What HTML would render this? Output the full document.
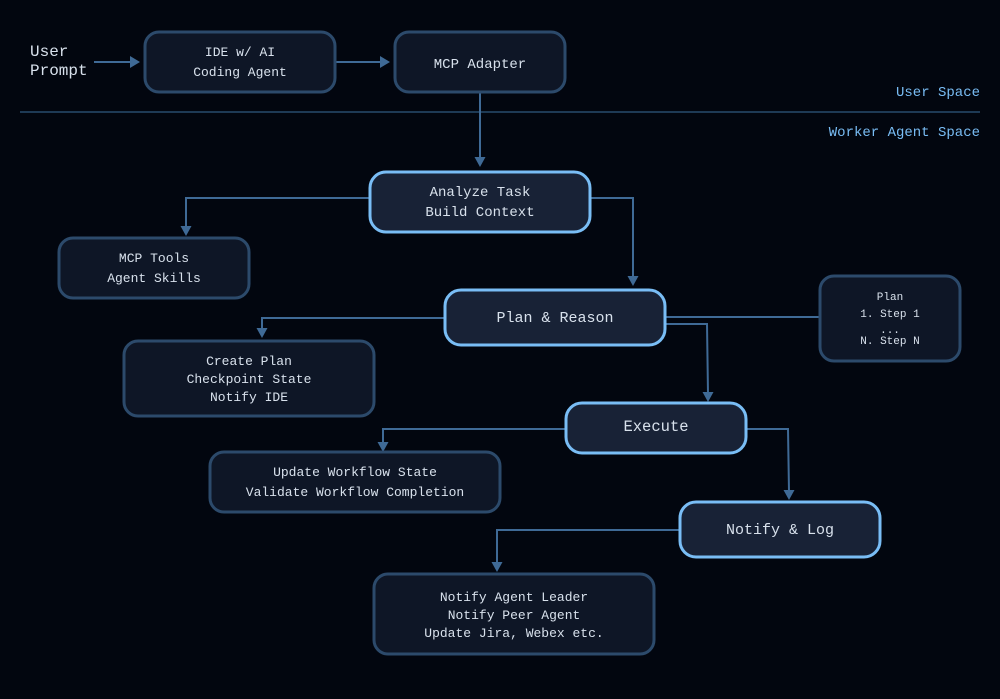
<!DOCTYPE html>
<html><head><meta charset="utf-8"><style>
html,body{margin:0;padding:0;background:#02060f}
svg{display:block}
text{font-family:"Liberation Mono","DejaVu Sans Mono",monospace;text-anchor:middle;fill:#d8e1ec}
.a{fill:#0e1626;stroke:#2c4a6b;stroke-width:3}
.b{fill:#182236;stroke:#79bdf5;stroke-width:3}
.l{fill:none;stroke:#3f6a96;stroke-width:2}
.h{fill:#3f6a96;stroke:none}
</style></head><body>
<svg width="1000" height="699" viewBox="0 0 1000 699" xmlns="http://www.w3.org/2000/svg">
<rect width="1000" height="699" fill="#02060f"/>
<line x1="20" y1="112" x2="980" y2="112" stroke="#1e3a55" stroke-width="2"/>
<path class="l" d="M94 62H132"/><path class="h" d="M130 56L140 62L130 68Z"/>
<path class="l" d="M336 62H382"/><path class="h" d="M380 56L390 62L380 68Z"/>
<path class="l" d="M480 93V158"/><path class="h" d="M474.500 157L480 167L485.500 157Z"/>
<path class="l" d="M369 198H186V228"/><path class="h" d="M180.500 226L186 236L191.500 226Z"/>
<path class="l" d="M591 198H633V278"/><path class="h" d="M627.500 276L633 286L638.500 276Z"/>
<path class="l" d="M444 318H262V330"/><path class="h" d="M256.500 328L262 338L267.500 328Z"/>
<path class="l" d="M666 317H820"/>
<path class="l" d="M666 324H707L708 394"/><path class="h" d="M702.500 392L708 402L713.500 392Z"/>
<path class="l" d="M565 429H383V444"/><path class="h" d="M377.500 442L383 452L388.500 442Z"/>
<path class="l" d="M747 429H788L789 492"/><path class="h" d="M783.500 490L789 500L794.500 490Z"/>
<path class="l" d="M679 530H497V564"/><path class="h" d="M491.500 562L497 572L502.500 562Z"/>

<rect class="a" x="145" y="32" width="190" height="60" rx="14"/>
<rect class="a" x="395" y="32" width="170" height="60" rx="14"/>
<rect class="b" x="370" y="172" width="220" height="60" rx="16"/>
<rect class="a" x="59" y="238" width="190" height="60" rx="14"/>
<rect class="b" x="445" y="290" width="220" height="55" rx="16"/>
<rect class="a" x="820" y="276" width="140" height="85" rx="14"/>
<rect class="a" x="124" y="341" width="250" height="75" rx="14"/>
<rect class="b" x="566" y="403" width="180" height="50" rx="16"/>
<rect class="a" x="210" y="452" width="290" height="60" rx="14"/>
<rect class="b" x="680" y="502" width="200" height="55" rx="16"/>
<rect class="a" x="374" y="574" width="280" height="80" rx="14"/>

<text x="30" y="56" font-size="16" style="text-anchor:start">User</text>
<text x="30" y="75" font-size="16" style="text-anchor:start">Prompt</text>
<text x="240" y="56" font-size="13">IDE w/ AI</text>
<text x="240" y="76" font-size="13">Coding Agent</text>
<text x="480" y="68" font-size="14">MCP Adapter</text>
<text x="980" y="96" font-size="14" style="text-anchor:end;fill:#79bdf5">User Space</text>
<text x="980" y="136" font-size="14" style="text-anchor:end;fill:#79bdf5">Worker Agent Space</text>
<text x="480" y="196" font-size="14">Analyze Task</text>
<text x="480" y="216" font-size="14">Build Context</text>
<text x="154" y="262" font-size="13">MCP Tools</text>
<text x="154" y="282" font-size="13">Agent Skills</text>
<text x="555" y="322" font-size="15">Plan &amp; Reason</text>
<text x="890" y="300" font-size="11">Plan</text>
<text x="890" y="317" font-size="11">1. Step 1</text>
<text x="890" y="333" font-size="11">...</text>
<text x="890" y="344" font-size="11">N. Step N</text>
<text x="249" y="365" font-size="13">Create Plan</text>
<text x="249" y="383" font-size="13">Checkpoint State</text>
<text x="249" y="401" font-size="13">Notify IDE</text>
<text x="656" y="431" font-size="15.500">Execute</text>
<text x="355" y="476" font-size="13">Update Workflow State</text>
<text x="355" y="496" font-size="13">Validate Workflow Completion</text>
<text x="780" y="534" font-size="15">Notify &amp; Log</text>
<text x="514" y="601" font-size="13">Notify Agent Leader</text>
<text x="514" y="619" font-size="13">Notify Peer Agent</text>
<text x="514" y="637" font-size="13">Update Jira, Webex etc.</text>
</svg>
</body></html>
